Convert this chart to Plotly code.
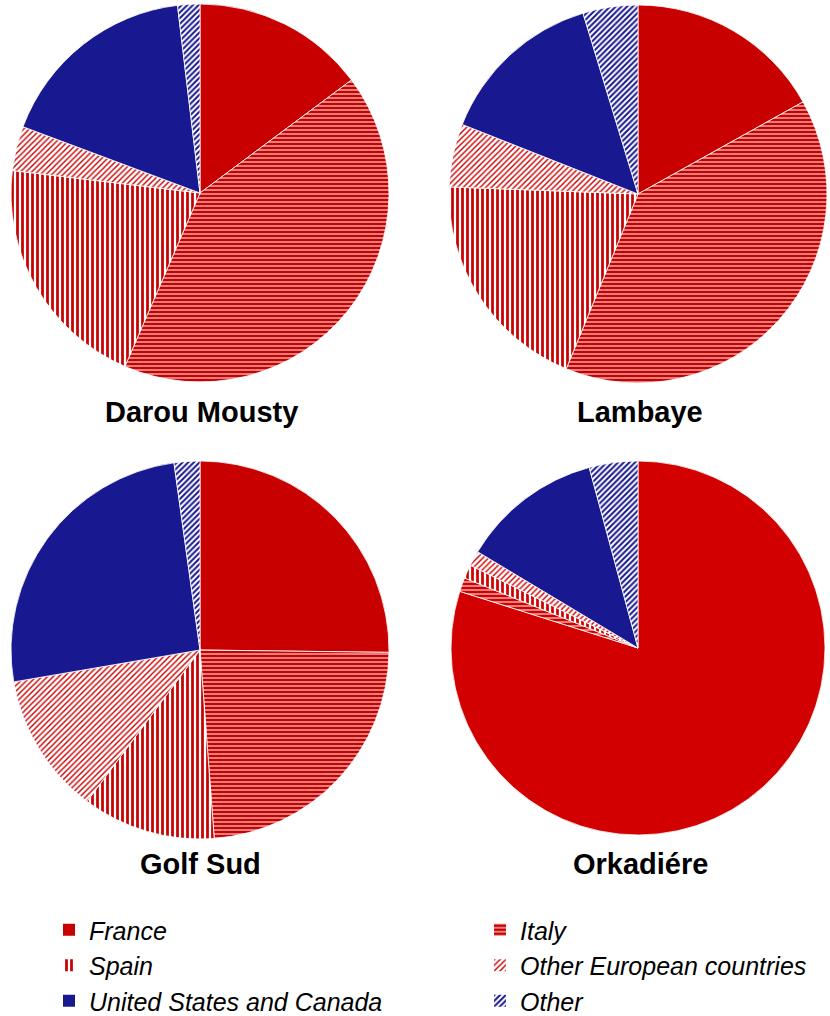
import plotly.graph_objects as go

categories = ["France", "Italy", "Spain", "Other European countries",
              "United States and Canada", "Other"]
sites = ["Darou Mousty", "Lambaye", "Golf Sud", "Orkadiére"]

darou_mousty = [14.8, 41.7, 20.4, 3.8, 17.4, 1.9]
lambaye = [16.9, 39.3, 19.4, 5.4, 14.3, 4.7]
golf_sud = [25.2, 23.6, 11.4, 12.1, 25.5, 2.2]
orkadiere = [79.9, 1.2, 1.2, 1.3, 12.2, 4.2]

# legend columns (index into categories)
legend_left = [0, 2, 4]
legend_right = [1, 3, 5]

RED = "#C80000"
RED2 = "#D20000"
BLUE = "#181890"
WHITE = "#FFFFFF"

def style_lists(red):
    return dict(
        colors=[red, red, WHITE, WHITE, BLUE, WHITE],
        shape=["", "-", "|", "/", "", "/"],
        fgcolor=[red, WHITE, red, red, BLUE, BLUE],
        bgcolor=[red, red, WHITE, WHITE, BLUE, WHITE],
        size=[6, 4, 5, 4, 6, 4],
        solidity=[0.5, 0.25, 0.55, 0.35, 0.5, 0.5],
    )

def marker(red, idx=None, lw=0.8):
    s = style_lists(red)
    if idx is None:
        idx = list(range(len(categories)))
    pick = lambda k: [s[k][i] for i in idx]
    return dict(
        colors=pick("colors"),
        line=dict(color=WHITE, width=lw),
        pattern=dict(shape=pick("shape"), fgcolor=pick("fgcolor"),
                     bgcolor=pick("bgcolor"), size=pick("size"),
                     solidity=pick("solidity"), fillmode="replace"),
    )

W, H = 830, 1016

def dom(cx, cy, r):
    return dict(x=[(cx - r) / W, (cx + r) / W],
                y=[(H - (cy + r)) / H, (H - (cy - r)) / H])

series = [darou_mousty, lambaye, golf_sud, orkadiere]
geoms = [(200, 193, 189), (638, 194, 189), (200, 650, 189), (638, 648, 187)]
reds = [RED, RED, RED, RED2]
title_pos = [(201, 412), (640, 412), (200, 864), (640, 864)]

fig = go.Figure()
for i, (vals, g, rc) in enumerate(zip(series, geoms, reds)):
    fig.add_trace(go.Pie(
        labels=categories, values=vals, sort=False, direction="clockwise",
        rotation=0, textinfo="none", hoverinfo="label+percent",
        marker=marker(rc), domain=dom(*g), showlegend=False, name=sites[i],
    ))

# legend-only entries, split into two columns
for lg, idx in (("legend", legend_left), ("legend2", legend_right)):
    fig.add_trace(go.Pie(
        labels=[categories[i] for i in idx], values=[1] * len(idx),
        sort=False, textinfo="none", hoverinfo="skip",
        marker=marker(RED, idx, lw=0), domain=dict(x=[0.2, 0.2005], y=[0.8, 0.8005]),
        showlegend=True, legend=lg,
    ))

annotations = []
for name, (x, y) in zip(sites, title_pos):
    annotations.append(dict(
        text="<b>%s</b>" % name, x=x / W, y=(H - y) / H, xref="paper", yref="paper",
        xanchor="center", yanchor="middle", showarrow=False,
        font=dict(family="Liberation Sans, Arial, sans-serif", size=29, color="#000000"),
    ))

legend_font = dict(family="Liberation Sans, Arial, sans-serif", size=25,
                   color="#000000", style="italic")
fig.update_layout(
    width=W, height=H,
    margin=dict(l=0, r=0, t=0, b=0, autoexpand=False),
    paper_bgcolor="white", plot_bgcolor="white",
    annotations=annotations,
    legend=dict(x=49 / W, xanchor="left", y=(H - 907) / H, yanchor="top",
                font=legend_font, itemclick=False, traceorder="normal"),
    legend2=dict(x=480 / W, xanchor="left", y=(H - 907) / H, yanchor="top",
                 font=legend_font, itemclick=False, traceorder="normal"),
)
fig.write_html("out.html", config={"displayModeBar": False},
               post_script="document.body.style.margin='0px';document.body.style.overflow='hidden';")
